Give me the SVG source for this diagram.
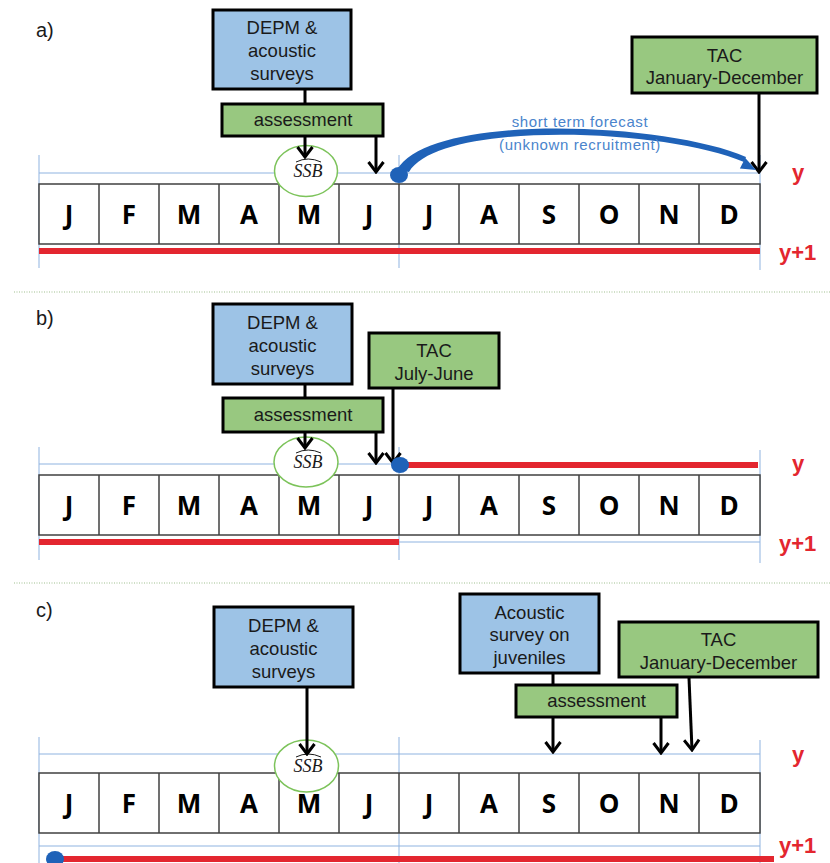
<svg xmlns="http://www.w3.org/2000/svg" width="830" height="863" viewBox="0 0 830 863">
<style>
.bg{fill:#fff}
.blue{fill:#9dc3e6;stroke:#000;stroke-width:3}
.green{fill:#98c880;stroke:#000;stroke-width:3}
.bt{font-family:"Liberation Sans",Arial,sans-serif;font-size:18.5px;fill:#1a1a1a;text-anchor:middle}
.mon{font-family:"Open Sans","Noto Sans",sans-serif;font-size:26px;font-weight:700;fill:#000;text-anchor:middle}
.cell{fill:#fff;stroke:#404040;stroke-width:1.5}
.cl{stroke:#404040;stroke-width:1.5}
.guide{stroke:#8fb3e0;stroke-width:1;fill:none}
.red{stroke:#e3262f;stroke-width:6;fill:none}
.dot{fill:#1f62b8}
.ssb{fill:#fff;stroke:#7cc35a;stroke-width:1.5}
.ssbt{font-family:"Liberation Serif","Times New Roman",serif;font-style:italic;font-size:18px;fill:#1a1a1a;text-anchor:middle}
.hat{fill:none;stroke:#1a1a1a;stroke-width:1}
.yl{font-family:"Liberation Sans",Arial,sans-serif;font-weight:700;font-size:22px;fill:#e3262f}
.pl{font-family:"Liberation Sans",Arial,sans-serif;font-size:20px;fill:#1a1a1a}
.conn{stroke:#000;stroke-width:3;fill:none}
.arr{stroke:#000;stroke-width:3;fill:none;marker-end:url(#ah)}
.div{stroke:#9fbf8f;stroke-width:1;stroke-dasharray:1 1.5}
.fc{font-family:"Liberation Sans",Arial,sans-serif;font-size:15px;letter-spacing:0.6px;fill:#4a84cc;text-anchor:middle}
</style>
<defs>
<marker id="ah" viewBox="-12 -9 14 18" refX="0" refY="0" markerWidth="14" markerHeight="18" markerUnits="userSpaceOnUse" orient="auto">
<path d="M-10,-7.5 L0,0 L-10,7.5" fill="none" stroke="#000" stroke-width="3"/>
</marker>
<g id="months">
<rect class="cell" x="39" y="0" width="721" height="60"/>
<line class="cl" x1="99" y1="0" x2="99" y2="60"/>
<line class="cl" x1="159" y1="0" x2="159" y2="60"/>
<line class="cl" x1="219" y1="0" x2="219" y2="60"/>
<line class="cl" x1="279" y1="0" x2="279" y2="60"/>
<line class="cl" x1="339" y1="0" x2="339" y2="60"/>
<line class="cl" x1="399" y1="0" x2="399" y2="60"/>
<line class="cl" x1="459" y1="0" x2="459" y2="60"/>
<line class="cl" x1="519" y1="0" x2="519" y2="60"/>
<line class="cl" x1="579" y1="0" x2="579" y2="60"/>
<line class="cl" x1="639" y1="0" x2="639" y2="60"/>
<line class="cl" x1="699" y1="0" x2="699" y2="60"/>
<text class="mon" x="69" y="40">J</text>
<text class="mon" x="129" y="40">F</text>
<text class="mon" x="189" y="40">M</text>
<text class="mon" x="249" y="40">A</text>
<text class="mon" x="309" y="40">M</text>
<text class="mon" x="369" y="40">J</text>
<text class="mon" x="429" y="40">J</text>
<text class="mon" x="489" y="40">A</text>
<text class="mon" x="549" y="40">S</text>
<text class="mon" x="609" y="40">O</text>
<text class="mon" x="669" y="40">N</text>
<text class="mon" x="729" y="40">D</text>
</g>
</defs>
<rect class="bg" x="0" y="0" width="830" height="863"/>

<!-- dividers -->
<line class="div" x1="14" y1="292" x2="830" y2="292"/>
<line class="div" x1="14" y1="583" x2="830" y2="583"/>

<!-- ============ PANEL A ============ -->
<g id="panel-a">
<text class="pl" x="36" y="37">a)</text>
<g id="a-guides">
<line class="guide" x1="39" y1="173" x2="760" y2="173"/>
<line class="guide" x1="39" y1="155" x2="39" y2="268"/>
<line class="guide" x1="399" y1="155" x2="399" y2="268"/>
<line class="guide" x1="760" y1="155" x2="760" y2="270"/>
</g>
<g id="a-months"><use href="#months" y="184"/></g>
<line class="red" x1="39" y1="251" x2="760" y2="251"/>
<g id="a-ssb">
<ellipse class="ssb" cx="306" cy="171" rx="31.5" ry="25.5"/>
<text class="ssbt" x="308" y="177">SSB</text>
<path class="hat" d="M296,162 Q308,156 321,162"/>
</g>
<g id="a-depm">
<rect class="blue" x="213" y="10" width="138" height="79"/>
<text class="bt" x="282" y="34">DEPM &amp;</text>
<text class="bt" x="282" y="57">acoustic</text>
<text class="bt" x="282" y="80">surveys</text>
</g>
<g id="a-assessment">
<rect class="green" x="222" y="104" width="161" height="32"/>
<text class="bt" x="303" y="126">assessment</text>
</g>
<g id="a-tac">
<rect class="green" x="632" y="37" width="185" height="56"/>
<text class="bt" x="724.5" y="61.5">TAC</text>
<text class="bt" x="724.5" y="84">January-December</text>
</g>
<text class="yl" x="792" y="180">y</text>
<text class="yl" x="779" y="260">y+1</text>
</g>

<!-- ============ PANEL B ============ -->
<g id="panel-b">
<text class="pl" x="36" y="325">b)</text>
<g id="b-guides">
<line class="guide" x1="39" y1="464" x2="400" y2="464"/>
<line class="guide" x1="399" y1="542" x2="760" y2="542"/>
<line class="guide" x1="39" y1="447" x2="39" y2="560"/>
<line class="guide" x1="399" y1="447" x2="399" y2="560"/>
<line class="guide" x1="760" y1="450" x2="760" y2="563"/>
</g>
<g id="b-months"><use href="#months" y="475"/></g>
<line class="red" x1="39" y1="542" x2="399" y2="542"/>
<line class="red" x1="400" y1="465" x2="758" y2="465"/>
<g id="b-ssb">
<ellipse class="ssb" cx="306" cy="462" rx="32" ry="25"/>
<text class="ssbt" x="308" y="468">SSB</text>
<path class="hat" d="M296,453 Q308,447 321,453"/>
</g>
<g id="b-depm">
<rect class="blue" x="213" y="304" width="139" height="80"/>
<text class="bt" x="282.5" y="329">DEPM &amp;</text>
<text class="bt" x="282.5" y="352">acoustic</text>
<text class="bt" x="282.5" y="375">surveys</text>
</g>
<g id="b-assessment">
<rect class="green" x="223" y="398" width="160" height="34"/>
<text class="bt" x="303" y="421">assessment</text>
</g>
<g id="b-tac">
<rect class="green" x="369" y="333" width="130" height="55"/>
<text class="bt" x="434" y="356.5">TAC</text>
<text class="bt" x="434" y="379.5">July-June</text>
</g>
<text class="yl" x="792" y="471">y</text>
<text class="yl" x="779" y="551">y+1</text>
</g>

<!-- ============ PANEL C ============ -->
<g id="panel-c">
<text class="pl" x="36" y="617">c)</text>
<g id="c-guides">
<line class="guide" x1="39" y1="754" x2="760" y2="754"/>
<line class="guide" x1="39" y1="846" x2="760" y2="846"/>
<line class="guide" x1="39" y1="737" x2="39" y2="863"/>
<line class="guide" x1="399" y1="737" x2="399" y2="863"/>
<line class="guide" x1="760" y1="740" x2="760" y2="863"/>
</g>
<g id="c-months"><use href="#months" y="773"/></g>
<line class="red" x1="55" y1="859" x2="774" y2="859"/>
<g id="c-ssb">
<ellipse class="ssb" cx="306.5" cy="766" rx="32" ry="26"/>
<text class="ssbt" x="308" y="772">SSB</text>
<path class="hat" d="M296,757 Q308,751 321,757"/>
</g>
<g id="c-depm">
<rect class="blue" x="214" y="607" width="139" height="80"/>
<text class="bt" x="283.5" y="632">DEPM &amp;</text>
<text class="bt" x="283.5" y="655">acoustic</text>
<text class="bt" x="283.5" y="678">surveys</text>
</g>
<g id="c-acoustic">
<rect class="blue" x="460" y="594" width="139" height="79"/>
<text class="bt" x="529.5" y="619">Acoustic</text>
<text class="bt" x="529.5" y="641">survey on</text>
<text class="bt" x="529.5" y="664">juveniles</text>
</g>
<g id="c-assessment">
<rect class="green" x="516" y="685" width="161" height="32"/>
<text class="bt" x="596.5" y="707">assessment</text>
</g>
<g id="c-tac">
<rect class="green" x="619" y="622" width="199" height="55"/>
<text class="bt" x="718.5" y="645.5">TAC</text>
<text class="bt" x="718.5" y="668.5">January-December</text>
</g>
<text class="yl" x="792" y="762">y</text>
<text class="yl" x="779" y="853">y+1</text>
</g>

<!-- ============ CONNECTORS ============ -->
<g id="connectors">
<!-- panel a -->
<line class="conn" x1="305" y1="90" x2="305" y2="104"/>
<line class="arr" x1="305" y1="137" x2="305" y2="157"/>
<line class="arr" x1="376" y1="137" x2="376" y2="172"/>
<line class="arr" x1="759" y1="94" x2="759" y2="172"/>
<path d="M397,170 C430,112 665,122 746,157 L744,162 C665,128 440,120 409,172 Z" fill="#1f62b8"/>
<polygon points="756,170 745.3,157.9 739.9,168.5" fill="#1f62b8"/>
<ellipse class="dot" cx="399" cy="175" rx="9" ry="8"/>
<text class="fc" x="580" y="127">short term forecast</text>
<text class="fc" x="580" y="150">(unknown recruitment)</text>
<!-- panel b -->
<line class="conn" x1="305" y1="385" x2="305" y2="398"/>
<line class="arr" x1="305" y1="433" x2="305" y2="448"/>
<line class="arr" x1="376" y1="433" x2="376" y2="463"/>
<line class="arr" x1="393" y1="389" x2="393" y2="463"/>
<ellipse class="dot" cx="400" cy="465" rx="9" ry="8"/>
<!-- panel c -->
<line class="arr" x1="307" y1="688" x2="307" y2="754"/>
<line class="conn" x1="553" y1="674" x2="553" y2="685"/>
<line class="arr" x1="553" y1="718" x2="553" y2="752"/>
<line class="arr" x1="661" y1="718" x2="661" y2="753"/>
<line class="arr" x1="689" y1="678" x2="692" y2="750"/>
<ellipse class="dot" cx="55" cy="859" rx="9" ry="8"/>
</g>
</svg>
